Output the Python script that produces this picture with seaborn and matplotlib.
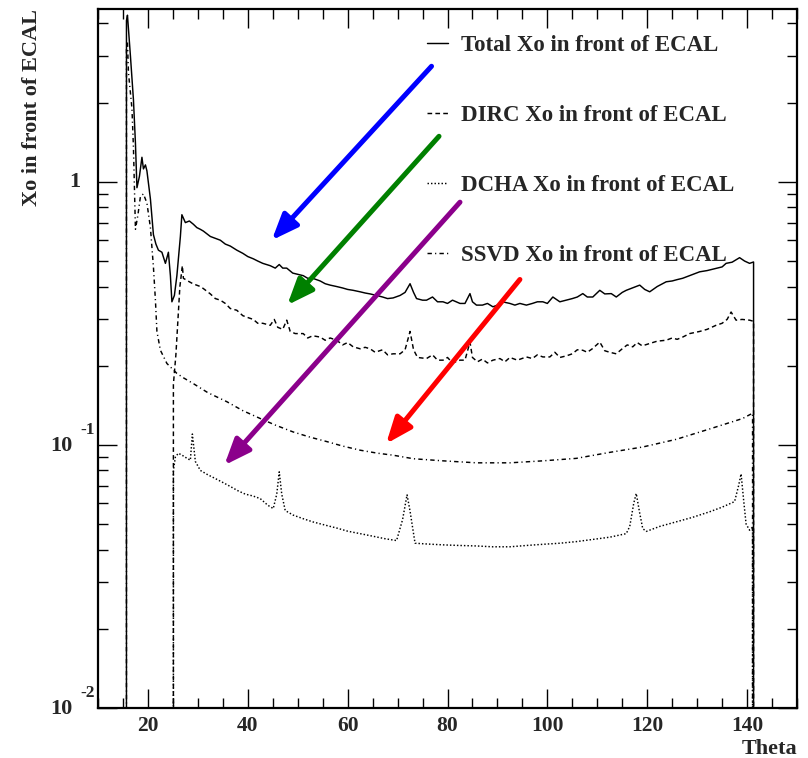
import numpy as np
import pandas as pd
import seaborn as sns
import matplotlib
matplotlib.use("Agg")
import matplotlib.pyplot as plt
from matplotlib.ticker import LogLocator, NullFormatter, MultipleLocator

# ---------------- data ----------------
total_theta = [
    15.6, 15.7, 15.9, 16.5, 17.1, 17.5, 17.8, 18.3, 18.8, 19.1,
    19.5, 19.8, 20.5, 21.1, 21.6, 22.1, 22.8, 23.5, 24.1, 24.5,
    24.8, 25.3, 25.8, 26.5, 26.8, 27.5, 28.3, 29.1, 29.8, 30.5,
    31.1, 32.5, 33.5, 34.5, 35.5, 36.5, 37.8, 39.0, 40.0, 41.1,
    42.0, 43.0, 44.5, 45.5, 46.3, 47.0, 47.8, 49.0, 50.0, 51.1,
    52.0, 53.0, 54.5, 55.5, 56.5, 57.8, 59.0, 60.0, 61.1, 62.5,
    63.5, 64.5, 65.8, 67.0, 68.0, 69.1, 70.5, 71.5, 72.5, 73.2,
    73.8, 75.0, 75.8, 77.0, 78.0, 79.1, 80.0, 81.0, 82.5, 83.5,
    84.5, 85.0, 85.8, 87.0, 88.0, 89.1, 90.0, 91.0, 92.5, 93.5,
    94.5, 95.8, 97.0, 98.0, 99.1, 100.0, 101.1, 102.5, 103.8, 105.0,
    106.0, 107.1, 108.0, 109.1, 110.5, 111.5, 112.8, 113.8, 115.0, 115.8,
    117.0, 118.5, 119.5, 120.5, 122.0, 123.8, 125.0, 126.0, 127.1, 128.5,
    130.5, 132.0, 133.8, 135.0, 135.8, 137.0, 138.5, 139.5, 140.5, 141.3,
    141.5]
total_xo = [
    0, 4.1, 4.3, 3.0, 2.05, 1.40, 0.95, 1.05, 1.24, 1.12,
    1.16, 1.10, 0.86, 0.63, 0.58, 0.55, 0.54, 0.49, 0.54, 0.44,
    0.35, 0.37, 0.44, 0.62, 0.75, 0.70, 0.71, 0.69, 0.67, 0.66,
    0.65, 0.62, 0.61, 0.60, 0.58, 0.57, 0.55, 0.535, 0.52, 0.51,
    0.50, 0.49, 0.48, 0.47, 0.485, 0.47, 0.47, 0.45, 0.445, 0.44,
    0.43, 0.43, 0.42, 0.41, 0.405, 0.40, 0.395, 0.39, 0.387, 0.382,
    0.378, 0.375, 0.37, 0.365, 0.36, 0.362, 0.37, 0.38, 0.41, 0.38,
    0.36, 0.355, 0.355, 0.365, 0.35, 0.35, 0.345, 0.355, 0.345, 0.345,
    0.376, 0.35, 0.34, 0.34, 0.345, 0.335, 0.34, 0.35, 0.345, 0.34,
    0.345, 0.34, 0.345, 0.35, 0.35, 0.345, 0.365, 0.35, 0.355, 0.36,
    0.365, 0.376, 0.365, 0.365, 0.387, 0.375, 0.376, 0.365, 0.38, 0.387,
    0.395, 0.405, 0.39, 0.382, 0.40, 0.417, 0.42, 0.425, 0.43, 0.44,
    0.455, 0.46, 0.469, 0.475, 0.49, 0.495, 0.515, 0.50, 0.49, 0.496,
    0]

dirc_theta = [
    25.0, 25.1, 25.6, 26.4, 26.9, 27.1, 28.0, 29.0, 30.5, 31.1,
    32.5, 33.5, 34.5, 35.5, 36.5, 37.8, 39.0, 40.0, 41.1, 42.0,
    43.0, 44.5, 45.3, 46.0, 47.0, 47.8, 48.5, 49.5, 51.1, 52.0,
    53.0, 54.5, 55.5, 56.5, 57.8, 59.0, 60.0, 61.1, 62.5, 63.5,
    64.5, 65.5, 67.0, 68.0, 69.1, 70.5, 71.5, 72.5, 73.2, 74.0,
    75.8, 77.0, 78.0, 79.1, 80.0, 81.0, 82.5, 83.5, 84.5, 85.0,
    86.0, 87.0, 88.0, 89.1, 90.5, 91.5, 92.5, 94.0, 95.8, 97.0,
    98.0, 99.1, 100.5, 101.5, 102.5, 103.8, 105.0, 106.0, 107.1, 108.0,
    109.0, 110.5, 111.5, 112.5, 113.8, 115.0, 116.0, 117.1, 118.0, 119.0,
    120.5, 122.0, 123.8, 125.0, 126.0, 127.1, 128.5, 130.5, 132.0, 133.8,
    135.0, 136.0, 136.8, 137.8, 139.0, 140.5, 141.3, 141.5]
dirc_xo = [
    0, 0.17, 0.22, 0.40, 0.48, 0.43, 0.42, 0.41, 0.40, 0.393,
    0.375, 0.36, 0.355, 0.345, 0.33, 0.325, 0.31, 0.305, 0.30, 0.29,
    0.29, 0.285, 0.30, 0.28, 0.275, 0.298, 0.27, 0.265, 0.265, 0.255,
    0.26, 0.257, 0.25, 0.255, 0.25, 0.24, 0.245, 0.236, 0.232, 0.235,
    0.232, 0.225, 0.23, 0.22, 0.222, 0.222, 0.23, 0.27, 0.23, 0.215,
    0.213, 0.22, 0.21, 0.21, 0.215, 0.205, 0.21, 0.21, 0.246, 0.215,
    0.207, 0.212, 0.205, 0.21, 0.213, 0.207, 0.215, 0.21, 0.216, 0.213,
    0.22, 0.216, 0.216, 0.225, 0.215, 0.218, 0.222, 0.23, 0.229, 0.225,
    0.232, 0.246, 0.228, 0.225, 0.222, 0.232, 0.24, 0.236, 0.245, 0.238,
    0.243, 0.248, 0.25, 0.255, 0.252, 0.257, 0.265, 0.27, 0.275, 0.285,
    0.29, 0.30, 0.32, 0.298, 0.30, 0.298, 0.295, 0]

dcha_theta = [
    25.0, 25.1, 25.5, 26.1, 27.0, 27.8, 28.5, 28.9, 29.5, 30.5,
    32.0, 33.5, 35.0, 36.5, 38.0, 39.5, 41.0, 42.5, 44.0, 45.1,
    45.8, 46.3, 46.8, 47.5, 49.1, 51.0, 53.0, 55.8, 58.0, 60.0,
    62.5, 65.0, 67.5, 69.8, 71.0, 71.9, 72.5, 73.5, 76.0, 79.1,
    82.0, 85.8, 89.0, 92.5, 96.0, 99.1, 102.5, 105.8, 109.0, 112.5,
    115.8, 116.5, 117.3, 117.8, 118.5, 119.1, 119.8, 122.5, 125.8, 129.0,
    132.5, 135.0, 137.5, 138.3, 138.8, 139.3, 139.8, 140.5, 141.1, 141.5]
dcha_xo = [
    0, 0.08, 0.09, 0.093, 0.091, 0.089, 0.0875, 0.11, 0.0865, 0.080,
    0.077, 0.0745, 0.072, 0.0695, 0.067, 0.065, 0.064, 0.0625, 0.059, 0.0573,
    0.065, 0.079, 0.065, 0.0563, 0.0541, 0.0525, 0.051, 0.0494, 0.0482, 0.047,
    0.046, 0.045, 0.044, 0.0433, 0.052, 0.0646, 0.056, 0.0423, 0.042, 0.0417,
    0.0415, 0.0413, 0.041, 0.041, 0.0415, 0.0419, 0.0423, 0.0429, 0.0437, 0.0446,
    0.046, 0.049, 0.060, 0.0654, 0.055, 0.0481, 0.0469, 0.049, 0.051, 0.053,
    0.0557, 0.058, 0.0609, 0.070, 0.0776, 0.062, 0.0501, 0.0474, 0.0487, 0]

ssvd_theta = [
    15.6, 15.7, 15.9, 16.1, 16.8, 17.1, 17.5, 18.0, 18.5, 19.1,
    19.8, 20.5, 21.1, 21.5, 21.8, 22.5, 23.8, 25.8, 27.1, 29.1,
    32.0, 35.8, 39.0, 42.5, 45.5, 49.1, 52.5, 55.8, 59.0, 62.5,
    66.0, 69.1, 73.2, 79.1, 85.8, 92.5, 99.1, 105.8, 112.5, 119.1,
    125.8, 132.5, 139.1, 141.1, 141.5]
ssvd_xo = [
    0, 3.2, 3.4, 2.6, 1.9, 1.35, 0.66, 0.75, 0.88, 0.90,
    0.83, 0.67, 0.475, 0.355, 0.27, 0.229, 0.204, 0.187, 0.18, 0.171,
    0.158, 0.146, 0.135, 0.126, 0.119, 0.112, 0.107, 0.103, 0.099, 0.0955,
    0.093, 0.0914, 0.0886, 0.087, 0.0855, 0.0855, 0.087, 0.0889, 0.0937, 0.0982,
    0.105, 0.115, 0.126, 0.132, 0]

series_labels = ["Total Xo in front of ECAL", "DIRC Xo in front of ECAL",
                 "DCHA Xo in front of ECAL", "SSVD Xo in front of ECAL"]

arrow_colors = ["#0000ff", "#008000", "#8b008b", "#ff0000"]
arrow_tail_theta = [76.8, 78.3, 82.5, 94.5]
arrow_tail_xo = [2.75, 1.49, 0.837, 0.4255]
arrow_tip_theta = [44.8, 47.9, 35.3, 67.7]
arrow_tip_xo = [0.60, 0.34, 0.0837, 0.101]

ytick_vals = [0.01, 0.1, 1]
xtick_vals = [20, 40, 60, 80, 100, 120, 140]

# ---------------- style ----------------
sns.set_theme(style="ticks")
plt.rcParams["font.family"] = ["Liberation Serif", "DejaVu Serif"]
plt.rcParams["font.weight"] = "bold"
plt.rcParams["axes.labelweight"] = "bold"

W, H = 808, 758
fig = plt.figure(figsize=(W / 100, H / 100), dpi=100)
fig.patch.set_facecolor("white")
ax = fig.add_axes([98 / W, 1 - 708 / H, 699 / W, 699 / H])
ax.set_facecolor("white")

styles = ["-", (0, (3.2, 2.2)), (0, (1.0, 1.4)), (0, (3.0, 2.2, 0.8, 2.2))]
data_sets = [(total_theta, total_xo), (dirc_theta, dirc_xo),
             (dcha_theta, dcha_xo), (ssvd_theta, ssvd_xo)]
for (th, xo), ls, lab in zip(data_sets, styles, series_labels):
    df = pd.DataFrame({"Theta": th, "Xo": xo})
    sns.lineplot(data=df, x="Theta", y="Xo", ax=ax, color="black", lw=1.05,
                 linestyle=ls, estimator=None, sort=False, label=lab,
                 legend=False)

ax.set_yscale("log")
ax.set_xlim(10, 150)
ax.set_ylim(0.01, 4.54)

# ticks
ax.xaxis.set_major_locator(MultipleLocator(20))
ax.xaxis.set_minor_locator(MultipleLocator(5))
ax.set_xticks(xtick_vals)
ax.set_xticklabels([str(v) for v in xtick_vals], fontsize=15.5,
                   fontweight="bold")
ax.yaxis.set_major_locator(LogLocator(base=10, numticks=10))
ax.yaxis.set_minor_locator(LogLocator(base=10, subs=np.arange(2, 10), numticks=20))
ax.yaxis.set_major_formatter(NullFormatter())
ax.yaxis.set_minor_formatter(NullFormatter())
ax.tick_params(which="both", direction="in", top=True, right=True,
               color="black", width=1.0)
ax.tick_params(which="major", length=14)
ax.tick_params(which="minor", length=7)
ax.tick_params(axis="x", which="major", pad=6)
for sp in ax.spines.values():
    sp.set_visible(True)
    sp.set_color("black")
    sp.set_linewidth(1.6)

# y tick labels in ROOT style
ytr = ax.get_yaxis_transform()
for v in ytick_vals:
    if v == 1:
        ax.annotate("1", xy=(0, v), xycoords=ytr, xytext=(-13, 0),
                    textcoords="offset points", ha="right", va="center",
                    fontsize=16, fontweight="bold")
    else:
        e = int(round(np.log10(v)))
        ax.annotate("10", xy=(0, v), xycoords=ytr, xytext=(-18.5, -1),
                    textcoords="offset points", ha="right", va="center",
                    fontsize=16, fontweight="bold")
        ax.annotate(str(e), xy=(0, v), xycoords=ytr, xytext=(-12.5, 11),
                    textcoords="offset points", ha="left", va="center",
                    fontsize=12.5, fontweight="bold")

ax.set_xlabel("Theta", loc="right", fontsize=16, fontweight="bold")
ax.xaxis.set_label_coords(1.0, -0.045)
ax.set_ylabel("Xo in front of ECAL", loc="top", fontsize=16, fontweight="bold")
ax.yaxis.set_label_coords(-0.080, 1.0)

# legend
handles, labels = ax.get_legend_handles_labels()
leg = ax.legend(handles, labels, loc="upper left",
                bbox_to_anchor=(427 / W, 1 - 35 / H),
                bbox_transform=fig.transFigure, frameon=False,
                fontsize=16.5, handlelength=0.92, handletextpad=0.57,
                labelspacing=2.13, borderpad=0, borderaxespad=0)
for t in leg.get_texts():
    t.set_fontweight("bold")

# arrows
for c, tt, tx, ht, hx in zip(arrow_colors, arrow_tail_theta, arrow_tail_xo,
                             arrow_tip_theta, arrow_tip_xo):
    ax.annotate("", xy=(ht, hx), xytext=(tt, tx), xycoords="data",
                textcoords="data",
                arrowprops=dict(arrowstyle="-|>,head_length=1.5,head_width=0.6",
                                color=c, lw=3.6, shrinkA=0, shrinkB=0,
                                mutation_scale=10.5))

fig.savefig("out.png", dpi=100, facecolor="white")
